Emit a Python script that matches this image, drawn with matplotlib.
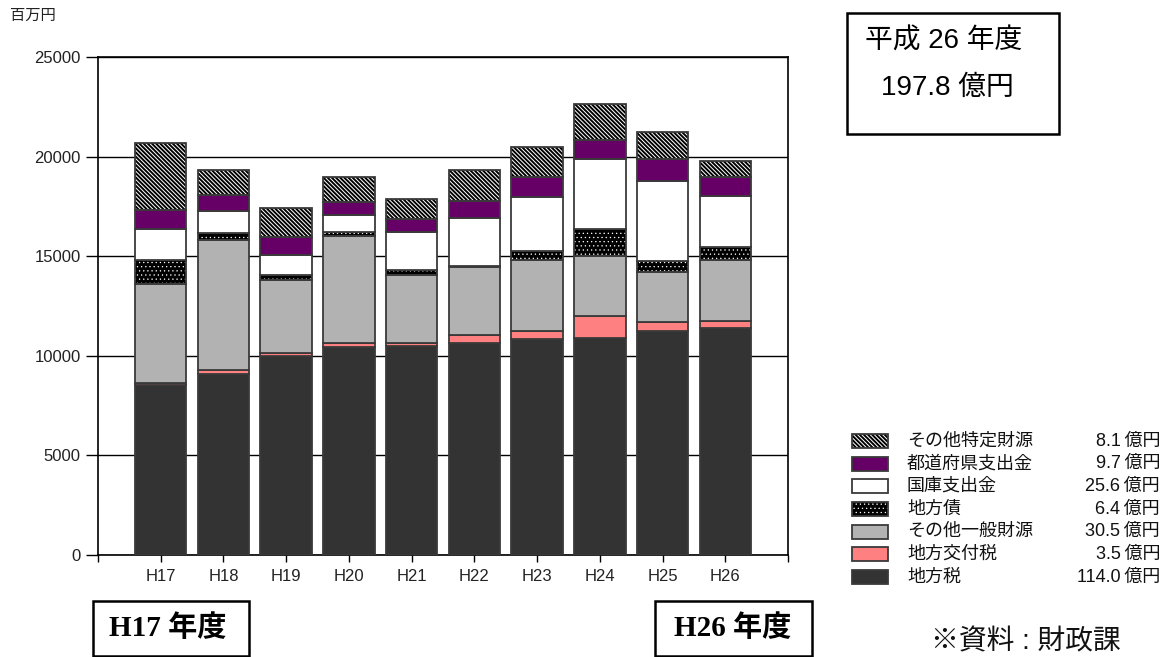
import numpy as np
import matplotlib
matplotlib.use('Agg')
import matplotlib.pyplot as plt
from matplotlib.patches import Rectangle

plt.rcParams['font.family'] = ['Liberation Sans', 'Noto Sans CJK JP', 'DejaVu Sans']

# 歳入の内訳 (百万円)
years = ['H17', 'H18', 'H19', 'H20', 'H21', 'H22', 'H23', 'H24', 'H25', 'H26']
chihou_zei = [8520, 9100, 9970, 10430, 10490, 10630, 10830, 10880, 11240, 11400]
koufu_zei = [130, 200, 160, 230, 140, 410, 400, 1130, 440, 350]
sonota_ippan = [4950, 6510, 3670, 5350, 3430, 3400, 3580, 3020, 2540, 3050]
chihou_sai = [1210, 370, 240, 200, 250, 70, 470, 1320, 550, 640]
kokko = [1540, 1110, 1040, 860, 1890, 2420, 2710, 3510, 4020, 2560]
todoufuken = [970, 770, 870, 670, 670, 860, 1000, 970, 1070, 970]
sonota_tokutei = [3380, 1270, 1450, 1250, 1000, 1540, 1480, 1810, 1390, 810]

# 下から順に積む
series = [
    ('地方税', chihou_zei, dict(face='#333333')),
    ('地方交付税', koufu_zei, dict(face='#ff8080')),
    ('その他一般財源', sonota_ippan, dict(face='#b2b2b2')),
    ('地方債', chihou_sai, dict(face='black', hatch='....', hc='white', hlw=0.4)),
    ('国庫支出金', kokko, dict(face='white')),
    ('都道府県支出金', todoufuken, dict(face='#660066')),
    ('その他特定財源', sonota_tokutei, dict(face='white', hatch='\\' * 8, hc='black', hlw=1.4)),
]
edge = '#3a3a3a'


def hatch_lw(artists, lw):
    for a in artists:
        if hasattr(a, 'set_hatch_linewidth'):
            a.set_hatch_linewidth(lw)


fig = plt.figure(figsize=(11.72, 6.57), dpi=100)
ax = fig.add_axes([98 / 1172, 102 / 657, 690 / 1172, 498 / 657])

x = np.arange(len(years))
bottom = np.zeros(len(years))
for name, vals, st in series:
    vals = np.array(vals, dtype=float)
    if 'hatch' in st:
        with plt.rc_context({'hatch.linewidth': st['hlw']}):
            bars = ax.bar(x, vals, 0.82, bottom=bottom, color=st['face'], edgecolor=st['hc'],
                          hatch=st['hatch'], linewidth=0, zorder=2)
        hatch_lw(bars, st['hlw'])
        ax.bar(x, vals, 0.82, bottom=bottom, fill=False, edgecolor=edge, linewidth=1.3, zorder=3)
    else:
        ax.bar(x, vals, 0.82, bottom=bottom, color=st['face'], edgecolor=edge,
               linewidth=1.3, zorder=3)
    bottom += vals

ax.set_xlim(-1, 10)
ax.set_ylim(0, 25000)
ax.set_yticks(np.arange(0, 25001, 5000))
ax.set_xticks(np.arange(-1, 11))
ax.set_xticklabels([''] + years + [''])
ax.yaxis.grid(True, color='black', linewidth=1.0)
ax.set_axisbelow(True)
ax.tick_params(axis='y', length=9, width=1, pad=3.5, labelsize=12, labelcolor='#222222')
ax.tick_params(axis='x', length=5, width=1, pad=5, labelsize=12, labelcolor='#222222')
for s in ax.spines.values():
    s.set_linewidth(1.2)

# 注記・凡例は画素座標のオーバーレイに描く
ov = fig.add_axes([0, 0, 1, 1])
ov.set_xlim(0, 1172)
ov.set_ylim(657, 0)
ov.axis('off')

ov.text(10, 16, '百万円', fontsize=11, va='center', ha='left', color='#222222')

# 凡例 (H26 の内訳)
row_y0 = 441
row_dy = 22.67
for i, (name, vals, st) in enumerate(series[::-1]):
    yc = row_y0 + i * row_dy
    if 'hatch' in st:
        p = Rectangle((852, yc - 7), 36, 14, facecolor=st['face'],
                      edgecolor=st['hc'], hatch=st['hatch'], linewidth=0)
        hatch_lw([p], st['hlw'])
        with plt.rc_context({'hatch.linewidth': st['hlw']}):
            ov.add_patch(p)
        ov.add_patch(Rectangle((852, yc - 7), 36, 14, fill=False, edgecolor=edge, linewidth=1.3))
    else:
        ov.add_patch(Rectangle((852, yc - 7), 36, 14, facecolor=st['face'],
                               edgecolor=edge, linewidth=1.3))
    ov.text(907, yc, name, fontsize=13, va='center', ha='left', color='#111111')
    ov.text(1160, yc, f'{vals[-1] / 100:.1f}\u2009億円', fontsize=13, va='center',
            ha='right', color='#111111')

# 平成26年度 合計
total = sum(v[-1] for _, v, _ in series)
ov.add_patch(Rectangle((847, 13), 212, 121, fill=False, edgecolor='black', linewidth=1.8))
ov.text(944, 42, '平成 26 年度', fontsize=20, ha='center', va='center', color='black')
ov.text(947, 88, f'{total / 100:.1f} 億円', fontsize=20, ha='center', va='center', color='black')

# 比較年度の枠
ov.add_patch(Rectangle((93, 601), 156, 55, fill=False, edgecolor='black', linewidth=1.8))
ov.text(168, 628, 'H17 年度', fontsize=21, ha='center', va='center', fontweight='bold',
        family=['Liberation Serif', 'Noto Sans CJK JP'], color='black')
ov.add_patch(Rectangle((655, 601), 157, 55, fill=False, edgecolor='black', linewidth=1.8))
ov.text(733, 628, 'H26 年度', fontsize=21, ha='center', va='center', fontweight='bold',
        family=['Liberation Serif', 'Noto Sans CJK JP'], color='black')

ov.text(1026, 642, '※資料 : 財政課', fontsize=20, ha='center', va='center', color='#111111')

fig.savefig('out.png', dpi=100)
